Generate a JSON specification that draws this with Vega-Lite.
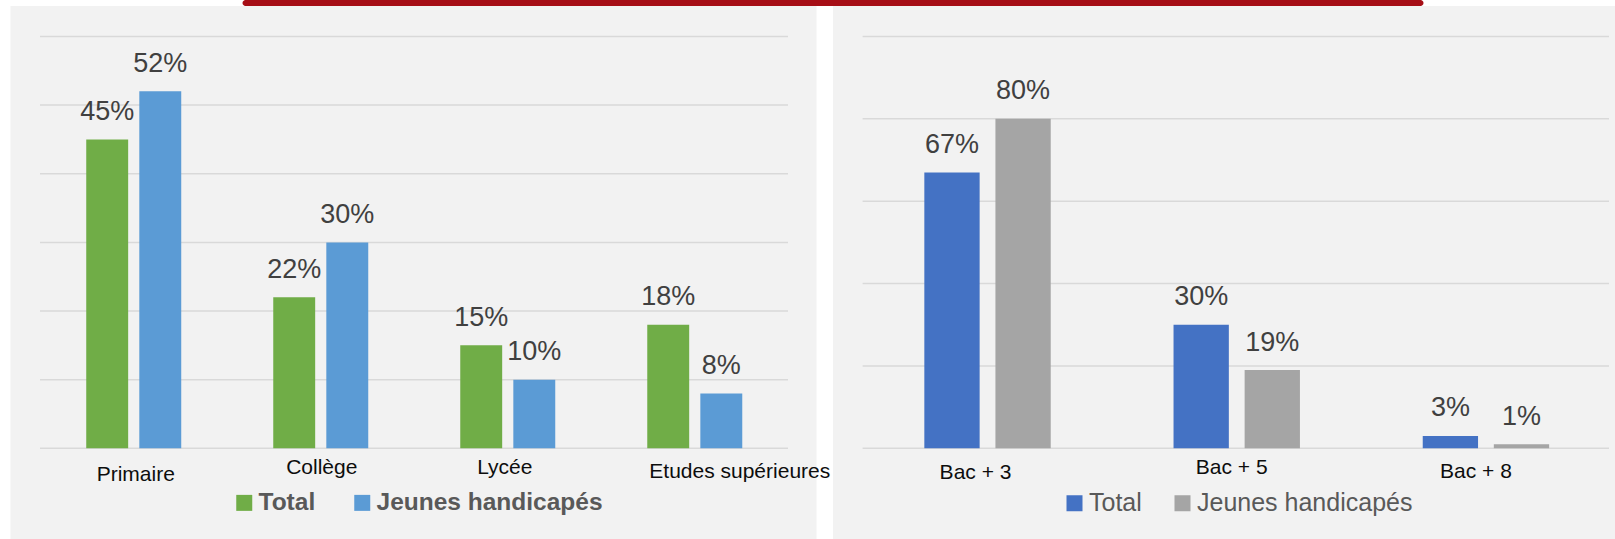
{
  "$schema": "https://vega.github.io/schema/vega-lite/v6.json",
  "background": "white",
  "padding": {"left": 10.5, "top": 0, "right": 0, "bottom": 0},
  "spacing": 0,
  "config": {"view": {"stroke": null}, "font": "Liberation Sans"},
  "datasets": {
    "gauche": [
      {"niveau": "Primaire", "serie": "Total", "v": 0.45},
      {"niveau": "Primaire", "serie": "Jeunes handicapés", "v": 0.52},
      {"niveau": "Collège", "serie": "Total", "v": 0.22},
      {"niveau": "Collège", "serie": "Jeunes handicapés", "v": 0.30},
      {"niveau": "Lycée", "serie": "Total", "v": 0.15},
      {"niveau": "Lycée", "serie": "Jeunes handicapés", "v": 0.10},
      {"niveau": "Etudes supérieures", "serie": "Total", "v": 0.18},
      {"niveau": "Etudes supérieures", "serie": "Jeunes handicapés", "v": 0.08}
    ],
    "droite": [
      {"niveau": "Bac + 3", "serie": "Total", "v": 0.67},
      {"niveau": "Bac + 3", "serie": "Jeunes handicapés", "v": 0.80},
      {"niveau": "Bac + 5", "serie": "Total", "v": 0.30},
      {"niveau": "Bac + 5", "serie": "Jeunes handicapés", "v": 0.19},
      {"niveau": "Bac + 8", "serie": "Total", "v": 0.03},
      {"niveau": "Bac + 8", "serie": "Jeunes handicapés", "v": 0.01}
    ],
    "grilleGauche": [{"g": 0}, {"g": 0.1}, {"g": 0.2}, {"g": 0.3}, {"g": 0.4}, {"g": 0.5}, {"g": 0.6}],
    "grilleDroite": [{"g": 0}, {"g": 0.2}, {"g": 0.4}, {"g": 0.6}, {"g": 0.8}, {"g": 1.0}]
  },
  "vconcat": [
    {
      "hconcat": [
        {"width": 232, "height": 6, "view": {"fill": null}, "data": {"values": []}, "mark": "rect", "encoding": {}},
        {"width": 1181, "height": 6, "view": {"fill": "#A60E16", "cornerRadius": 3}, "data": {"values": []}, "mark": "rect", "encoding": {}}
      ],
      "spacing": 0,
      "bounds": "flush"
    },
    {
      "hconcat": [
        {
          "width": 806,
          "height": 533,
          "view": {"fill": "#F2F2F2"},
          "layer": [
            {
              "data": {"name": "grilleGauche"},
              "mark": {"type": "rule", "color": "#D9D9D9", "strokeWidth": 1.5},
              "encoding": {
                "y": {"field": "g", "type": "quantitative", "scale": {"domain": [-0.13208, 0.64437], "nice": false, "zero": false}, "axis": null},
                "x": {"datum": 0, "type": "quantitative", "scale": {"domain": [-0.03944, 1.0381], "nice": false, "zero": false}, "axis": null},
                "x2": {"datum": 1}
              }
            },
            {
              "data": {"name": "gauche"},
              "layer": [
                {
                  "mark": {"type": "bar"},
                  "encoding": {
                    "x": {
                      "field": "niveau", "type": "nominal",
                      "sort": ["Primaire", "Collège", "Lycée", "Etudes supérieures"],
                      "scale": {"paddingInner": 0.492, "paddingOuter": 0.401, "align": 0.505},
                      "axis": {
                        "title": null, "orient": "bottom", "offset": -90.5, "domain": false, "ticks": false, "grid": false,
                        "labelAngle": 0, "labelFontSize": 21, "labelColor": "#0D0D0D", "labelFont": "Liberation Sans",
                        "labelBaseline": "top", "labelLimit": 400, "labelOverlap": false,
                        "labelOffset": {"expr": "datum.value == 'Etudes supérieures' ? 45 : datum.value == 'Lycée' ? -3 : datum.value == 'Primaire' ? 2 : 1"},
                        "labelPadding": {"expr": "datum.value == 'Primaire' ? 15 : datum.value == 'Etudes supérieures' ? 11.5 : 8"}
                      }
                    },
                    "xOffset": {"field": "serie", "type": "nominal", "sort": ["Total", "Jeunes handicapés"], "scale": {"paddingInner": 0.21, "paddingOuter": 0}},
                    "y": {"field": "v", "type": "quantitative", "scale": {"domain": [-0.13208, 0.64437], "nice": false, "zero": false}, "axis": null},
                    "y2": {"datum": 0},
                    "color": {
                      "field": "serie", "type": "nominal",
                      "scale": {"domain": ["Total", "Jeunes handicapés"], "range": ["#70AD47", "#5B9BD5"]},
                      "legend": {
                        "title": null, "orient": "none", "legendX": 221.5, "legendY": 484.5, "direction": "horizontal",
                        "symbolType": "square", "symbolSize": 256, "symbolStrokeWidth": 0, "symbolOpacity": 1,
                        "labelFontSize": 24.5, "labelFontWeight": "bold", "labelColor": "#595959", "labelFont": "Liberation Sans",
                        "labelOffset": 2, "columnPadding": 34, "padding": 0, "labelLimit": 400
                      }
                    }
                  }
                },
                {
                  "mark": {"type": "text", "baseline": "alphabetic", "dy": -19.5, "fontSize": 27, "color": "#404040", "font": "Liberation Sans"},
                  "encoding": {
                    "x": {"field": "niveau", "type": "nominal", "sort": ["Primaire", "Collège", "Lycée", "Etudes supérieures"]},
                    "xOffset": {"field": "serie", "type": "nominal", "sort": ["Total", "Jeunes handicapés"]},
                    "y": {"field": "v", "type": "quantitative"},
                    "text": {"field": "v", "type": "quantitative", "format": ".0%"}
                  }
                }
              ]
            }
          ],
          "resolve": {"scale": {"x": "independent"}}
        },
        {
          "width": 782,
          "height": 533,
          "view": {"fill": "#F2F2F2"},
          "layer": [
            {
              "data": {"name": "grilleDroite"},
              "mark": {"type": "rule", "color": "#D9D9D9", "strokeWidth": 1.5},
              "encoding": {
                "y": {"field": "g", "type": "quantitative", "scale": {"domain": [-0.22014, 1.07395], "nice": false, "zero": false}, "axis": null},
                "x": {"datum": 0, "type": "quantitative", "scale": {"domain": [-0.03966, 1.00804], "nice": false, "zero": false}, "axis": null},
                "x2": {"datum": 1}
              }
            },
            {
              "data": {"name": "droite"},
              "layer": [
                {
                  "mark": {"type": "bar"},
                  "encoding": {
                    "x": {
                      "field": "niveau", "type": "nominal",
                      "sort": ["Bac + 3", "Bac + 5", "Bac + 8"],
                      "scale": {"paddingInner": 0.4928, "paddingOuter": 0.3154, "align": 0.581},
                      "axis": {
                        "title": null, "orient": "bottom", "offset": -90.5, "domain": false, "ticks": false, "grid": false,
                        "labelAngle": 0, "labelFontSize": 21, "labelColor": "#0D0D0D", "labelFont": "Liberation Sans",
                        "labelBaseline": "top", "labelLimit": 400, "labelOverlap": false,
                        "labelOffset": {"expr": "datum.value == 'Bac + 3' ? -12 : datum.value == 'Bac + 5' ? -5 : -10"},
                        "labelPadding": {"expr": "datum.value == 'Bac + 3' ? 13 : datum.value == 'Bac + 8' ? 11.5 : 8"}
                      }
                    },
                    "xOffset": {"field": "serie", "type": "nominal", "sort": ["Total", "Jeunes handicapés"], "scale": {"paddingInner": 0.222, "paddingOuter": 0}},
                    "y": {"field": "v", "type": "quantitative", "scale": {"domain": [-0.22014, 1.07395], "nice": false, "zero": false}, "axis": null},
                    "y2": {"datum": 0},
                    "color": {
                      "field": "serie", "type": "nominal",
                      "scale": {"domain": ["Total", "Jeunes handicapés"], "range": ["#4472C4", "#A5A5A5"]},
                      "legend": {
                        "title": null, "orient": "none", "legendX": 229, "legendY": 484.5, "direction": "horizontal",
                        "symbolType": "square", "symbolSize": 256, "symbolStrokeWidth": 0, "symbolOpacity": 1,
                        "labelFontSize": 25, "labelFontWeight": "normal", "labelColor": "#595959", "labelFont": "Liberation Sans",
                        "labelOffset": 2, "columnPadding": 28, "padding": 0, "labelLimit": 400
                      }
                    }
                  }
                },
                {
                  "mark": {"type": "text", "baseline": "alphabetic", "dy": -19.5, "fontSize": 27, "color": "#404040", "font": "Liberation Sans"},
                  "encoding": {
                    "x": {"field": "niveau", "type": "nominal", "sort": ["Bac + 3", "Bac + 5", "Bac + 8"]},
                    "xOffset": {"field": "serie", "type": "nominal", "sort": ["Total", "Jeunes handicapés"]},
                    "y": {"field": "v", "type": "quantitative"},
                    "text": {"field": "v", "type": "quantitative", "format": ".0%"}
                  }
                }
              ]
            }
          ],
          "resolve": {"scale": {"x": "independent"}}
        }
      ],
      "spacing": 16.5,
      "bounds": "flush",
      "resolve": {"scale": {"color": "independent", "x": "independent", "xOffset": "independent", "y": "independent"}, "legend": {"color": "independent"}, "axis": {"x": "independent"}}
    }
  ]
}
